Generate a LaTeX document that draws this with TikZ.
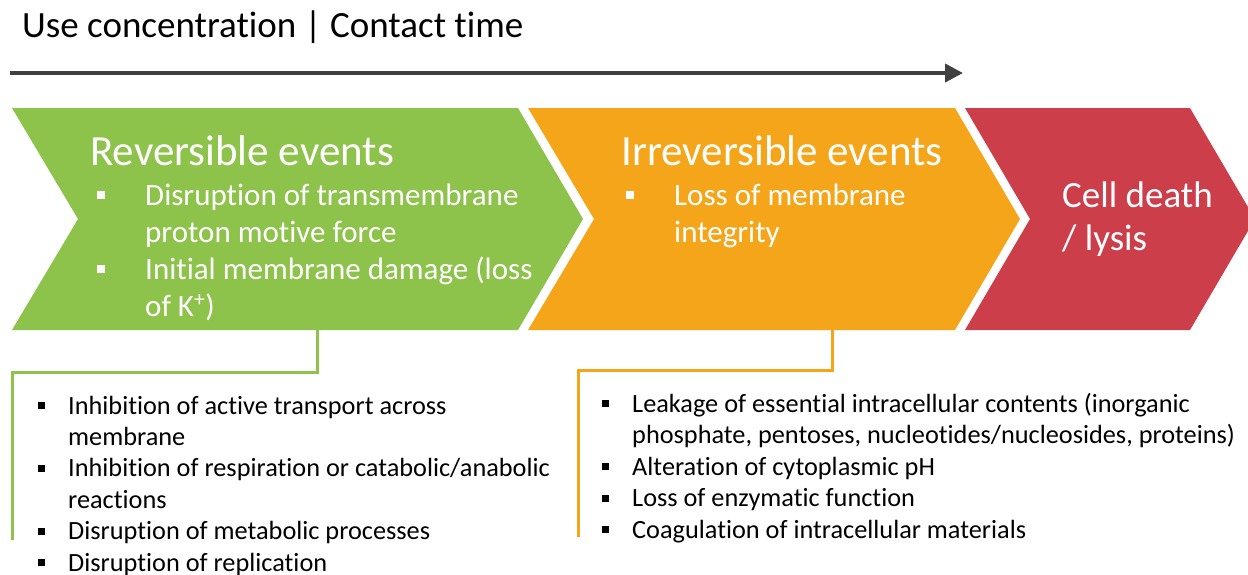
\documentclass[tikz,border=0pt]{standalone}
\usepackage{fontspec}
\setmainfont{Carlito}[Ligatures=NoCommon]
\usetikzlibrary{arrows.meta}
\definecolor{revgreen}{HTML}{8DC24B}
\definecolor{irrorange}{HTML}{F5A51A}
\definecolor{deathred}{HTML}{CC3F4A}
\definecolor{axisgray}{HTML}{404040}
\newcommand\wbul{\makebox[50pt][l]{\hspace*{2pt}\raisebox{6pt}{\rule{8pt}{8pt}}}}
\newcommand\bbul{\makebox[30pt][l]{\raisebox{5pt}{\rule{7pt}{7pt}}}}
\tikzset{
  head/.style={inner sep=0, anchor=base west, text=white, align=left,
    font=\fontsize{43}{44}\selectfont},
  inlist/.style={inner sep=0, anchor=base west, text=white, align=left,
    font=\fontsize{31}{37}\selectfont},
  outlist/.style={inner sep=0, anchor=base west, align=left,
    font=\fontsize{26.3}{31.4}\selectfont},
  link/.style={line width=3pt}
}
\begin{document}
\begin{tikzpicture}[x=1pt, y=-1pt]
  \clip (0,0) rectangle (1248,574);
  \fill[white] (0,0) rectangle (1248,574);
  % axis
  \node[inner sep=0, anchor=base west, font=\fontsize{37}{40}\selectfont] (axistitle) at (22,37)
    {Use concentration | Contact time};
  \coordinate (axis0) at (10,73);
  \coordinate (axis1) at (963,73);
  \draw[axisgray, line width=4pt, -{Triangle[length=18pt,width=18pt]}] (axis0) -- (axis1);
  % chevrons
  \fill[revgreen] (12,108) -- (518,108) -- (583,219) -- (518,330) -- (12,330) -- (78,219) -- cycle;
  \fill[irrorange] (528,108) -- (955,108) -- (1020,219) -- (955,330) -- (528,330) -- (594,219) -- cycle;
  \fill[deathred] (965,108) -- (1190,108) -- (1255,219) -- (1190,330) -- (965,330) -- (1030,219) -- cycle;
  \node[head] (revhead) at (90,165) {Reversible events};
  % base of a multi-line node = last line
  \node[inlist] (revitems) at (95,316) {\wbul Disruption of transmembrane\\
    \hspace*{50pt}proton motive force\\
    \wbul Initial membrane damage (loss\\
    \hspace*{50pt}of K\textsuperscript{+})};
  \node[head] (irrhead) at (621,165) {Irreversible events};
  \node[inlist] (irritems) at (624,242) {\wbul Loss of membrane\\
    \hspace*{50pt}integrity};
  \node[inlist, font=\fontsize{37}{43}\selectfont] (death) at (1062,250) {Cell death\\/ lysis};
  % lists below
  \node[outlist] (revlist) at (38,571) {\bbul Inhibition of active transport across\\
    \hspace*{30pt}membrane\\
    \bbul Inhibition of respiration or catabolic/anabolic\\
    \hspace*{30pt}reactions\\
    \bbul Disruption of metabolic processes\\
    \bbul Disruption of replication};
  \node[outlist] (irrlist) at (602,538) {\bbul Leakage of essential intracellular contents (inorganic\\
    \hspace*{30pt}phosphate, pentoses, nucleotides/nucleosides, proteins)\\
    \bbul Alteration of cytoplasmic pH\\
    \bbul Loss of enzymatic function\\
    \bbul Coagulation of intracellular materials};
  % links
  \coordinate (revfoot) at (317,330);
  \coordinate (revend) at (12,540);
  \coordinate (irrfoot) at (832,330);
  \coordinate (irrend) at (578,537);
  \draw[link, revgreen] (revfoot) -- ++(0,42) -| (revend);
  \draw[link, irrorange] (irrfoot) -- ++(0,40) -| (irrend);
\end{tikzpicture}
\end{document}
